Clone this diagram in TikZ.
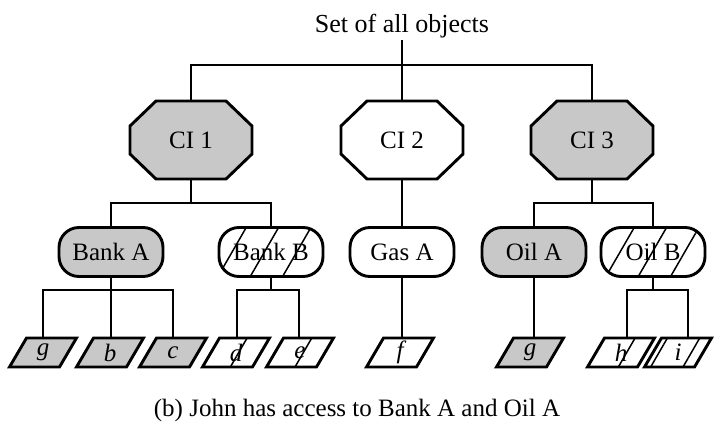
\documentclass[tikz,border=0pt]{standalone}
\usepackage{fontspec}
\setmainfont{Liberation Serif}
\usetikzlibrary{patterns.meta,calc}
\definecolor{cigray}{RGB}{200,200,200}
\tikzset{
  base/.style={line width=2.9pt, line join=miter},
  conn/.style={line width=2.9pt},
  txt/.style={font=\fontsize{25}{30}\selectfont},
  ciNode/.style={txt, minimum width=122pt, minimum height=78pt, inner sep=0pt},
  midbox/.style={txt, draw, line width=2.9pt, rounded corners=20pt, minimum width=104pt, minimum height=49pt, inner sep=0pt},
  leafNode/.style={font=\fontsize{25}{30}\selectfont\itshape, minimum width=50pt, minimum height=29pt, inner sep=0pt},
  grayfill/.style={fill=cigray},
  whitefill/.style={fill=white},
  hatch/.style={pattern={Lines[angle=60,distance=28pt,line width=1.5pt]}},
}
\newcommand\ciShape[3]{%
  \path[base,draw,#3] (#1-35,#2-39) -- (#1+35,#2-39) -- (#1+61,#2-14) -- (#1+61,#2+14)
    -- (#1+35,#2+39) -- (#1-35,#2+39) -- (#1-61,#2+14) -- (#1-61,#2-14) -- cycle;}
\newcommand\leafShape[3]{%
  \path[base,draw,#3] (#1-16.5,#2-14.5) -- (#1+33.5,#2-14.5) -- (#1+16.5,#2+14.5)
    -- (#1-33.5,#2+14.5) -- cycle;}
\begin{document}
\begin{tikzpicture}[x=1pt,y=-1pt]
\useasboundingbox (0,0) rectangle (714,430);

% title
\node[font=\fontsize{26}{30}\selectfont, inner sep=2pt] (title) at (402,26) {Set of all objects};

% CI level
\ciShape{191}{140}{grayfill}
\node[ciNode] (ci1) at (191,140) {CI 1};
\ciShape{402}{140}{whitefill}
\node[ciNode] (ci2) at (402,140) {CI 2};
\ciShape{592}{140}{grayfill}
\node[ciNode] (ci3) at (592,140) {CI 3};

% middle level
\node[midbox, grayfill] (bankA) at (111,252) {Bank A};
\node[midbox, hatch] (bankB) at (271,252) {Bank B};
\node[midbox, whitefill] (gasA) at (402,252) {Gas A};
\node[midbox, grayfill] (oilA) at (534,252) {Oil A};
\node[midbox, hatch] (oilB) at (653,252) {Oil B};

% leaves
\leafShape{43}{352.5}{grayfill}
\node[leafNode] (g1) at (43,352.5) {g};
\leafShape{110}{352.5}{grayfill}
\node[leafNode] (b) at (110,352.5) {b};
\leafShape{173}{352.5}{grayfill}
\node[leafNode] (c) at (173,352.5) {c};
\leafShape{236}{352.5}{hatch}
\node[leafNode] (d) at (236,352.5) {d};
\leafShape{300}{352.5}{hatch}
\node[leafNode] (e) at (300,352.5) {e};
\leafShape{400}{352.5}{whitefill}
\node[leafNode] (f) at (400,352.5) {f};
\leafShape{530}{352.5}{grayfill}
\node[leafNode] (g2) at (530,352.5) {g};
\leafShape{621}{352.5}{hatch}
\node[leafNode] (h) at (621,352.5) {h};
\leafShape{678}{352.5}{hatch}
\node[leafNode] (i) at (678,352.5) {i};

% junctions
\coordinate (top) at (402,65);
\coordinate (j1) at (191,203);
\coordinate (j3) at (592,203);
\coordinate (jA) at (111,290);
\coordinate (jB) at (271,290);
\coordinate (jOB) at (653,290);

% connectors
\draw[conn] (title.south) -- (top);
\draw[conn] (ci1.north) |- (top) -| (ci3.north);
\draw[conn] (top) -- (ci2.north);

\draw[conn] (ci1.south) -- (j1);
\draw[conn] (bankA.north) |- (j1) -| (bankB.north);
\draw[conn] (ci2.south) -- (gasA.north);
\draw[conn] (ci3.south) -- (j3);
\draw[conn] (oilA.north) |- (j3) -| (oilB.north);

\draw[conn] (bankA.south) -- (jA);
\draw[conn] (g1.north) |- (jA) -| (c.north);
\draw[conn] (jA) -- ([xshift=1pt]b.north);
\draw[conn] (bankB.south) -- (jB);
\draw[conn] ([xshift=1pt]d.north) |- (jB) -| ([xshift=-1pt]e.north);
\draw[conn] (gasA.south) -- ([xshift=2pt]f.north);
\draw[conn] (oilA.south) -- ([xshift=4pt]g2.north);
\draw[conn] (oilB.south) -- (jOB);
\draw[conn] ([xshift=6pt]h.north) |- (jOB) -| ([xshift=10pt]i.north);

% caption
\node[txt] (caption) at (357,410) {(b) John has access to Bank A and Oil A};
\end{tikzpicture}
\end{document}
